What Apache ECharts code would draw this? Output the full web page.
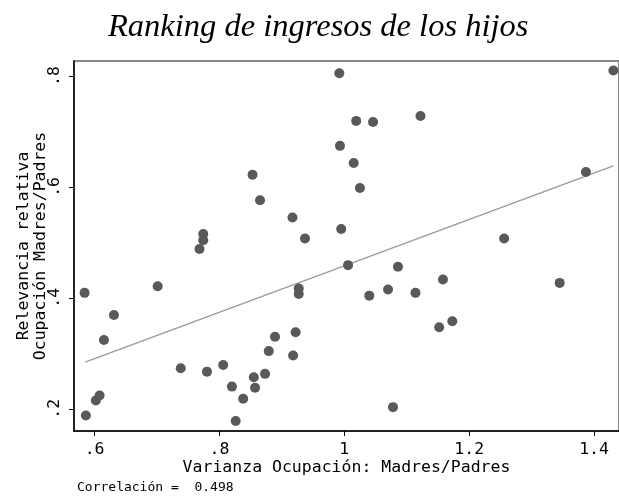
<!DOCTYPE html>
<html>
<head>
<meta charset="utf-8">
<script src="https://cdn.jsdelivr.net/npm/echarts@6/dist/echarts.min.js"></script>
<style>
  html, body { margin: 0; padding: 0; background: #fff; }
  #chart { width: 619px; height: 499px; }
</style>
</head>
<body>
<div id="chart"></div>
<script>
// puntos: varianza ocupación (x) y relevancia relativa (y)
var varianza = [
  0.992, 1.019, 1.046, 0.993, 1.015, 0.853, 1.025, 0.865, 0.917, 0.995,
  0.937, 0.774, 0.774, 0.768, 1.006, 1.086, 0.927, 0.927, 1.040, 1.070,
  0.922, 0.889, 0.879, 0.918, 0.780, 0.806, 0.855, 0.873, 0.820, 0.857,
  0.838, 0.826, 1.078, 0.584, 0.701, 0.631, 0.615, 0.738, 0.602, 0.608,
  0.586, 1.431, 1.122, 1.387, 1.256, 1.158, 1.114, 1.345, 1.173, 1.152
];
var relevancia = [
  0.805, 0.719, 0.717, 0.674, 0.643, 0.622, 0.598, 0.576, 0.545, 0.524,
  0.507, 0.515, 0.504, 0.488, 0.459, 0.456, 0.417, 0.407, 0.404, 0.415,
  0.338, 0.330, 0.304, 0.296, 0.267, 0.279, 0.257, 0.263, 0.240, 0.238,
  0.218, 0.178, 0.203, 0.409, 0.421, 0.369, 0.324, 0.273, 0.215, 0.224,
  0.188, 0.810, 0.728, 0.627, 0.507, 0.433, 0.409, 0.427, 0.358, 0.347
];
// recta ajustada (extremos)
var ajusteX = [0.585, 1.431];
var ajusteY = [0.284, 0.638];

var xTicks = [0.6, 0.8, 1, 1.2, 1.4];
var xTickLabels = ['.6', '.8', '1', '1.2', '1.4'];
var yTicks = [0.2, 0.4, 0.6, 0.8];
var yTickLabels = ['.2', '.4', '.6', '.8'];

function etiqueta(ticks, labels) {
  return function (v) {
    for (var i = 0; i < ticks.length; i++) {
      if (Math.abs(ticks[i] - v) < 1e-6) return labels[i];
    }
    return '';
  };
}

var puntos = [];
for (var i = 0; i < varianza.length; i++) {
  puntos.push([varianza[i], relevancia[i]]);
}
var linea = [];
for (var j = 0; j < ajusteX.length; j++) {
  linea.push([ajusteX[j], ajusteY[j]]);
}

var mono = '"DejaVu Sans Mono", monospace';
var chart = echarts.init(document.getElementById('chart'));
var option = {
  animation: false,
  title: {
    text: 'Ranking de ingresos de los hijos',
    left: 103,
    top: 6,
    textStyle: {
      fontFamily: '"Liberation Serif", serif',
      fontStyle: 'italic',
      fontWeight: 'normal',
      fontSize: 32.5,
      color: '#000'
    }
  },
  grid: {
    left: 74,
    right: 0,
    top: 61,
    bottom: 68,
    outerBoundsMode: 'none',
    show: true,
    borderColor: '#888',
    borderWidth: 2
  },
  xAxis: {
    type: 'value',
    min: 0.567,
    max: 1.44,
    name: 'Varianza Ocupación: Madres/Padres',
    nameLocation: 'middle',
    nameGap: 28,
    nameMoveOverlap: false,
    nameTextStyle: { fontFamily: mono, fontSize: 16.5, color: '#000' },
    axisLine: { show: true, onZero: false, lineStyle: { color: '#000', width: 1.5 } },
    axisTick: { show: true, customValues: xTicks, length: 5, lineStyle: { color: '#000' } },
    axisLabel: {
      customValues: xTicks,
      formatter: etiqueta(xTicks, xTickLabels),
      fontFamily: mono,
      fontSize: 16.5,
      color: '#000',
      margin: 10
    },
    splitLine: { show: false }
  },
  yAxis: {
    type: 'value',
    min: 0.16,
    max: 0.827,
    name: 'Relevancia relativa\nOcupación Madres/Padres',
    nameLocation: 'middle',
    nameGap: 42,
    nameRotate: 90,
    nameMoveOverlap: false,
    nameTextStyle: { fontFamily: mono, fontSize: 16.5, color: '#000', lineHeight: 17, verticalAlign: 'middle' },
    axisLine: { show: true, onZero: false, lineStyle: { color: '#000', width: 1.5 } },
    axisTick: { show: true, customValues: yTicks, length: 5, lineStyle: { color: '#000' } },
    axisLabel: {
      customValues: yTicks,
      formatter: etiqueta(yTicks, yTickLabels),
      rotate: 90,
      fontFamily: mono,
      fontSize: 16.5,
      color: '#000',
      margin: 11
    },
    splitLine: { show: false }
  },
  graphic: [{
    type: 'text',
    left: 77,
    top: 481,
    style: {
      text: 'Correlación =  0.498',
      font: '13px ' + mono,
      fill: '#000'
    }
  }],
  series: [{
    type: 'scatter',
    data: puntos,
    symbol: 'circle',
    symbolSize: 10,
    itemStyle: { color: '#595959', opacity: 1 }
  }, {
    type: 'line',
    data: linea,
    symbol: 'none',
    lineStyle: { color: '#9a9a9a', width: 1.3 },
    z: 1
  }]
};
chart.setOption(option);
</script>
</body>
</html>
